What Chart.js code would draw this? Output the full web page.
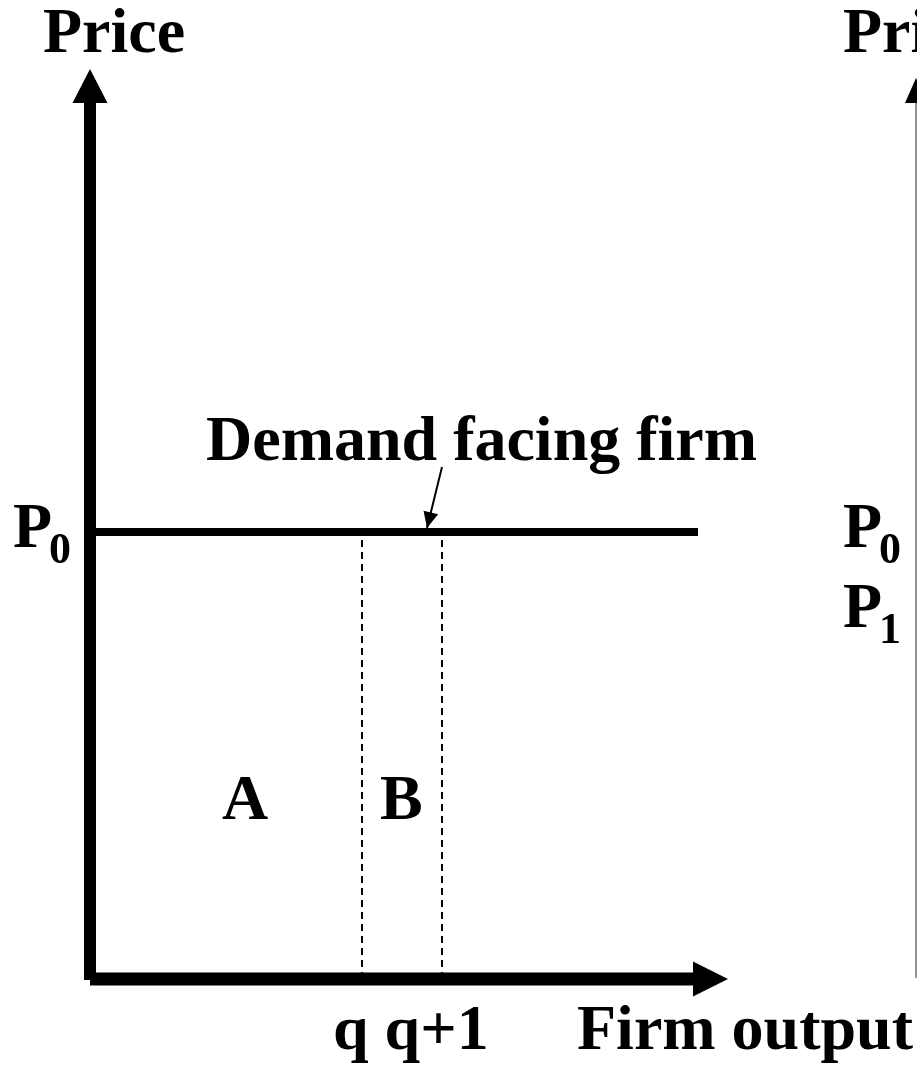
<!DOCTYPE html>
<html>
<head>
<meta charset="utf-8">
<script src="https://cdn.jsdelivr.net/npm/chart.js@4/dist/chart.umd.min.js"></script>
<style>
  html, body { margin: 0; padding: 0; background: #ffffff; }
  #wrap { width: 917px; height: 1065px; }
</style>
</head>
<body>
<div id="wrap"><canvas id="c" width="917" height="1065"></canvas></div>
<script>
// ---- data (schematic units) ----
const priceAxisY = [-0.1, 87.6];       // left price axis, from bottom to arrow base
const outputAxisX = [0, 60.3];         // firm output axis, from origin to arrow base
const priceP0 = 44.7;                  // P0 level (demand facing firm)
const demandX = [0, 60.8];             // extent of demand line
const qValues = [27.2, 35.2];          // q and q+1
const qLabels = ['q', 'q+1'];
const rightAxisX = 82.6;               // second panel's price axis (cut off)
const rightAxisY = [0.1, 87.6];
const calloutFrom = [35.2, 51.2];      // callout arrow tail (x, y)
const calloutTo = [33.7, 45.1];        // callout arrow tip (x, y)

const xRange = [-9, 82.7];
const yRange = [-8.6, 97.9];

// ---- text labels (data positions) ----
const FONT = '"Liberation Serif", "Times New Roman", serif';
const textLabels = [
  { text: 'Price', x: -4.7, y: 92.7 },
  { text: 'Price', x: 75.3, y: 92.7 },
  { text: 'Demand facing firm', x: 11.6, y: 51.9 },
  { text: 'P', sub: '0', x: -7.7, y: 43.2 },
  { text: 'P', sub: '0', x: 75.3, y: 43.2 },
  { text: 'P', sub: '1', x: 75.3, y: 35.2 },
  { text: 'A', x: 13.2, y: 16.0 },
  { text: 'B', x: 29.0, y: 16.0 },
  { text: qLabels[0] + ' ' + qLabels[1], x: 24.3, y: -7.0 },
  { text: 'Firm output', x: 48.7, y: -7.0 }
];

const arrowPlugin = {
  id: 'arrows',
  afterDatasetsDraw(chart) {
    const ctx = chart.ctx;
    const xs = chart.scales.x, ys = chart.scales.y;
    chart.data.datasets.forEach(ds => {
      if (!ds.arrow) return;
      const n = ds.data.length;
      const a = ds.data[n - 2], b = ds.data[n - 1];
      const ax = xs.getPixelForValue(a.x), ay = ys.getPixelForValue(a.y);
      const bx = xs.getPixelForValue(b.x), by = ys.getPixelForValue(b.y);
      let dx = bx - ax, dy = by - ay;
      const L = Math.hypot(dx, dy); dx /= L; dy /= L;
      const len = ds.arrow.length, hw = ds.arrow.halfWidth;
      let tipX, tipY, baseX, baseY;
      if (ds.arrow.extend) {
        baseX = bx; baseY = by; tipX = bx + dx * len; tipY = by + dy * len;
      } else {
        tipX = bx; tipY = by; baseX = bx - dx * len; baseY = by - dy * len;
      }
      const px = -dy, py = dx;
      ctx.save();
      ctx.fillStyle = ds.arrow.color || '#000';
      ctx.beginPath();
      ctx.moveTo(tipX, tipY);
      ctx.lineTo(baseX + px * hw, baseY + py * hw);
      ctx.lineTo(baseX - px * hw, baseY - py * hw);
      ctx.closePath();
      ctx.fill();
      ctx.restore();
    });
  },
  afterDraw(chart) {
    const ctx = chart.ctx;
    const xs = chart.scales.x, ys = chart.scales.y;
    ctx.save();
    ctx.fillStyle = '#000';
    ctx.textBaseline = 'alphabetic';
    ctx.textAlign = 'left';
    textLabels.forEach(l => {
      const x = xs.getPixelForValue(l.x), y = ys.getPixelForValue(l.y);
      ctx.font = 'bold 64px ' + FONT;
      ctx.fillText(l.text, x, y);
      if (l.sub) {
        const w = ctx.measureText(l.text).width;
        ctx.font = 'bold 44px ' + FONT;
        ctx.fillText(l.sub, x + w - 3, y + 16);
      }
    });
    ctx.restore();
  }
};

const lineDs = (data, extra) => Object.assign({
  data, showLine: true, pointRadius: 0, pointHoverRadius: 0,
  borderColor: '#000', backgroundColor: '#000', fill: false, tension: 0,
  borderCapStyle: 'butt'
}, extra);

const datasets = [
  lineDs(priceAxisY.map(y => ({ x: 0, y })), { borderWidth: 12, arrow: { length: 34, halfWidth: 17.5, extend: true } }),
  lineDs(outputAxisX.map(x => ({ x, y: 0 })), { borderWidth: 13, arrow: { length: 35, halfWidth: 17.5, extend: true } }),
  lineDs(demandX.map(x => ({ x, y: priceP0 })), { borderWidth: 8 }),
  ...qValues.map(q => lineDs([{ x: q, y: 0 }, { x: q, y: priceP0 }], { borderWidth: 2, borderDash: [7, 5] })),
  lineDs(rightAxisY.map(y => ({ x: rightAxisX, y })), { borderWidth: 1.5, borderColor: '#6e6e6e', arrow: { length: 25, halfWidth: 11, extend: true } }),
  lineDs([{ x: calloutFrom[0], y: calloutFrom[1] }, { x: calloutTo[0], y: calloutTo[1] }], { borderWidth: 2, arrow: { length: 16, halfWidth: 7.5, extend: false } })
];

new Chart(document.getElementById('c'), {
  type: 'scatter',
  data: { datasets },
  options: {
    responsive: false,
    devicePixelRatio: 1,
    animation: false,
    layout: { padding: 0 },
    plugins: { legend: { display: false }, tooltip: { enabled: false } },
    scales: {
      x: { type: 'linear', min: xRange[0], max: xRange[1], display: false },
      y: { type: 'linear', min: yRange[0], max: yRange[1], display: false }
    }
  },
  plugins: [arrowPlugin]
});
</script>
</body>
</html>
